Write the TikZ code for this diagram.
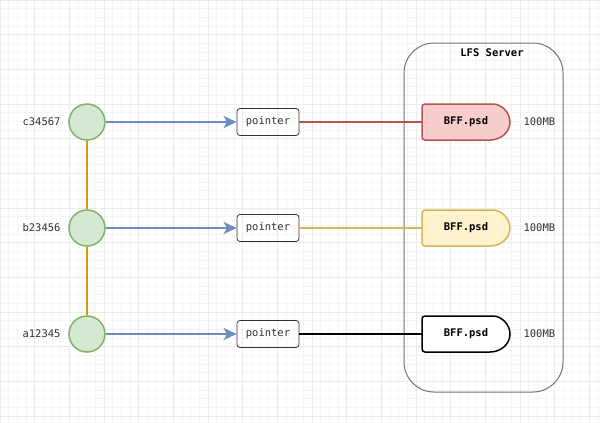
\documentclass[tikz,border=0pt]{standalone}
\usepackage{fontspec}
\setmonofont{DejaVu Sans Mono}
\usetikzlibrary{arrows.meta}
\definecolor{mygreen}{RGB}{213,232,212}
\definecolor{mydarkgreen}{RGB}{130,179,102}
\definecolor{myorange}{RGB}{215,155,0}
\definecolor{myblue}{RGB}{108,142,191}
\definecolor{myred}{RGB}{248,206,204}
\definecolor{mydarkred}{RGB}{184,84,80}
\definecolor{myyellow}{RGB}{255,242,204}
\definecolor{mydarkyellow}{RGB}{214,182,86}
\definecolor{mytext}{RGB}{51,51,51}
\definecolor{mygrid}{RGB}{245,245,245}
\definecolor{mymajor}{RGB}{235,235,235}
\newcommand{\bffshape}[3]{%
	\filldraw[bffline, fill=#2, draw=#3] #1 ++(24,-18) [rounded corners=3pt] -- ++(-68,0) -- ++(0,36) -- ++(68,0) [sharp corners] arc(90:-90:20 and 18) -- cycle;}

\begin{document}
\begin{tikzpicture}[x=1pt, y=1pt, font=\ttfamily\fontsize{10.5}{12}\selectfont,
	commit/.style={circle, minimum size=36pt, inner sep=0pt, fill=mygreen, draw=mydarkgreen, line width=1.5pt},
	ptrbox/.style={draw=mytext, rounded corners=3pt, minimum width=62pt, minimum height=27pt, inner sep=0pt, line width=0.8pt, text=mytext},
	bffline/.style={line width=1.5pt},
	bffnode/.style={minimum width=88pt, minimum height=36pt, inner sep=0pt, font=\ttfamily\bfseries\fontsize{10.5}{12}\selectfont},
	history/.style={draw=myorange, line width=1.8pt},
	link/.style={-{Stealth[length=13pt, width=12pt, inset=3.5pt]}, draw=myblue, line width=2pt},
	store/.style={line width=2pt}]
	\useasboundingbox (0,0) rectangle (600,-423);
	\fill[white] (0,0) rectangle (600,-423);
	\foreach \i in {0,...,69} {
		\draw[mygrid, line width=0.6pt] (\i*8.667,0) -- (\i*8.667,-423);
	}
	\foreach \i in {0,...,48} {
		\draw[mygrid, line width=0.6pt] (0,-\i*8.667) -- (600,-\i*8.667);
	}
	\foreach \i in {0,...,17} {
		\draw[mymajor, line width=0.8pt] (\i*34.667,0) -- (\i*34.667,-423);
	}
	\foreach \i in {0,...,12} {
		\draw[mymajor, line width=0.8pt] (0,-\i*34.667) -- (600,-\i*34.667);
	}

	\draw[draw=gray!90!black, line width=1pt, rounded corners=30pt] (404,-43) rectangle (563,-392);
	\node[font=\ttfamily\bfseries\fontsize{10.5}{12}\selectfont] (lfs) at (492,-53) {LFS Server};

	\node[commit] (c3) at (87,-122) {};
	\node[commit] (c2) at (87,-228) {};
	\node[commit] (c1) at (87,-334) {};
	\node[anchor=east, text=mytext] (l3) at (64,-122) {c34567};
	\node[anchor=east, text=mytext] (l2) at (64,-228) {b23456};
	\node[anchor=east, text=mytext] (l1) at (64,-334) {a12345};
	\draw[history] (c3) to (c2);
	\draw[history] (c2) to (c1);

	\node[ptrbox] (p3) at (268,-122) {pointer};
	\node[ptrbox] (p2) at (268,-228) {pointer};
	\node[ptrbox] (p1) at (268,-334) {pointer};
	\draw[link] (c3) to (p3);
	\draw[link] (c2) to (p2);
	\draw[link] (c1) to (p1);

	\bffshape{(466,-122)}{myred}{mydarkred}
	\bffshape{(466,-228)}{myyellow}{mydarkyellow}
	\bffshape{(466,-334)}{white}{black}
	\node[bffnode] (f3) at (466,-122) {BFF.psd};
	\node[bffnode] (f2) at (466,-228) {BFF.psd};
	\node[bffnode] (f1) at (466,-334) {BFF.psd};
	\draw[store, draw=mydarkred] (p3) to (f3);
	\draw[store, draw=mydarkyellow] (p2) to (f2);
	\draw[store, draw=black] (p1) to (f1);

	\node[anchor=west, text=mytext] (s3) at (520,-122) {100MB};
	\node[anchor=west, text=mytext] (s2) at (520,-228) {100MB};
	\node[anchor=west, text=mytext] (s1) at (520,-334) {100MB};
\end{tikzpicture}
\end{document}
